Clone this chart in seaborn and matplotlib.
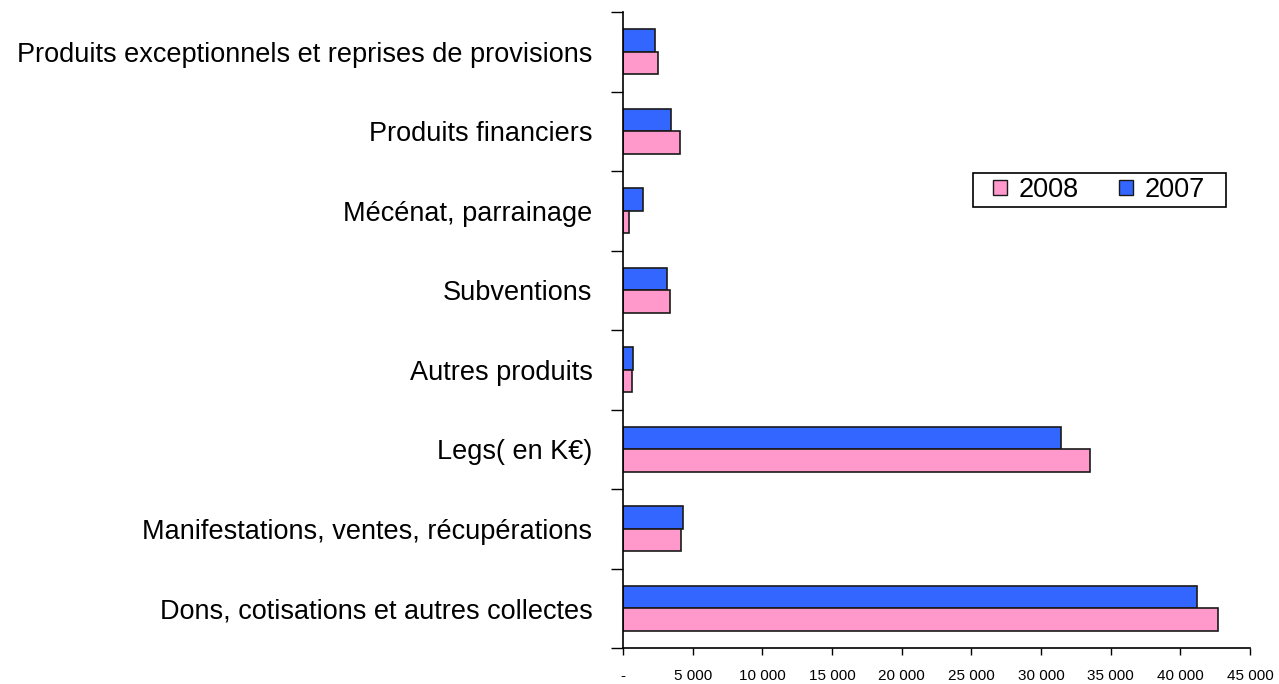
import numpy as np
import pandas as pd
import matplotlib
matplotlib.use("Agg")
import matplotlib.pyplot as plt
import matplotlib.ticker as mticker
from matplotlib.patches import Patch, Rectangle
import seaborn as sns

categories = [
    "Produits exceptionnels et reprises de provisions",
    "Produits financiers",
    "Mécénat, parrainage",
    "Subventions",
    "Autres produits",
    "Legs( en K€)",
    "Manifestations, ventes, récupérations",
    "Dons, cotisations et autres collectes",
]
values_2007 = [2300, 3450, 1460, 3140, 740, 31400, 4300, 41200]
values_2008 = [2490, 4100, 430, 3350, 620, 33500, 4170, 42700]
years = ["2007", "2008"]
colors = {"2007": "#3366FF", "2008": "#FF99CC"}

df = pd.DataFrame({
    "cat": categories * 2,
    "val": values_2007 + values_2008,
    "year": ["2007"] * len(categories) + ["2008"] * len(categories),
})

sns.set_style("white")
plt.rcParams["font.family"] = ["Liberation Sans", "DejaVu Sans"]
plt.rcParams["text.color"] = "black"
plt.rcParams["xtick.color"] = "black"
plt.rcParams["ytick.color"] = "black"

fig = plt.figure(figsize=(12.79, 6.84), dpi=100)
ax = fig.add_axes([623 / 1279, (684 - 648) / 684, 627 / 1279, 636 / 684])

sns.barplot(data=df, y="cat", x="val", hue="year", hue_order=years,
            palette=colors, saturation=1, orient="h", width=0.56,
            order=categories, edgecolor="#1a1a1a", linewidth=1.2, ax=ax,
            legend=False)

ax.set_xlim(0, 45000)
ax.set_ylim(7.5, -0.5)
ax.set_xlabel("")
ax.set_ylabel("")

ax.xaxis.set_major_locator(mticker.MultipleLocator(5000))
ax.xaxis.set_major_formatter(mticker.FuncFormatter(
    lambda v, p: "-" if v == 0 else f"{v:,.0f}".replace(",", " ")))
ax.tick_params(axis="x", direction="out", length=5, width=1,
               labelsize=11, pad=10, bottom=True)

ax.set_yticks(np.arange(len(categories)))
ax.set_yticklabels(categories, fontsize=19.5)
ax.set_yticks(np.arange(-0.5, len(categories), 1.0), minor=True)
ax.tick_params(axis="y", which="major", length=0, pad=22)
ax.tick_params(axis="y", which="minor", direction="out", length=9, width=1,
               left=True)

for s in ["top", "right"]:
    ax.spines[s].set_visible(False)
for s in ["left", "bottom"]:
    ax.spines[s].set_color("black")
    ax.spines[s].set_linewidth(1.2)

# legend (2008 first), with a plain box around it
handles = [Patch(facecolor=colors[y], edgecolor="#1a1a1a", label=y)
           for y in ["2008", "2007"]]
ax.legend(handles=handles, loc="center left", bbox_to_anchor=(0.590, 0.720),
          ncol=2, fontsize=19.5, frameon=False,
          handlelength=0.52, handleheight=0.52, handletextpad=0.42,
          columnspacing=1.5, borderpad=0, borderaxespad=0)
ax.add_patch(Rectangle((0.558, 0.693), 0.404, 0.054, transform=ax.transAxes,
                       facecolor="none", edgecolor="black", linewidth=1.2,
                       clip_on=False))

fig.savefig("out.png", dpi=100)
